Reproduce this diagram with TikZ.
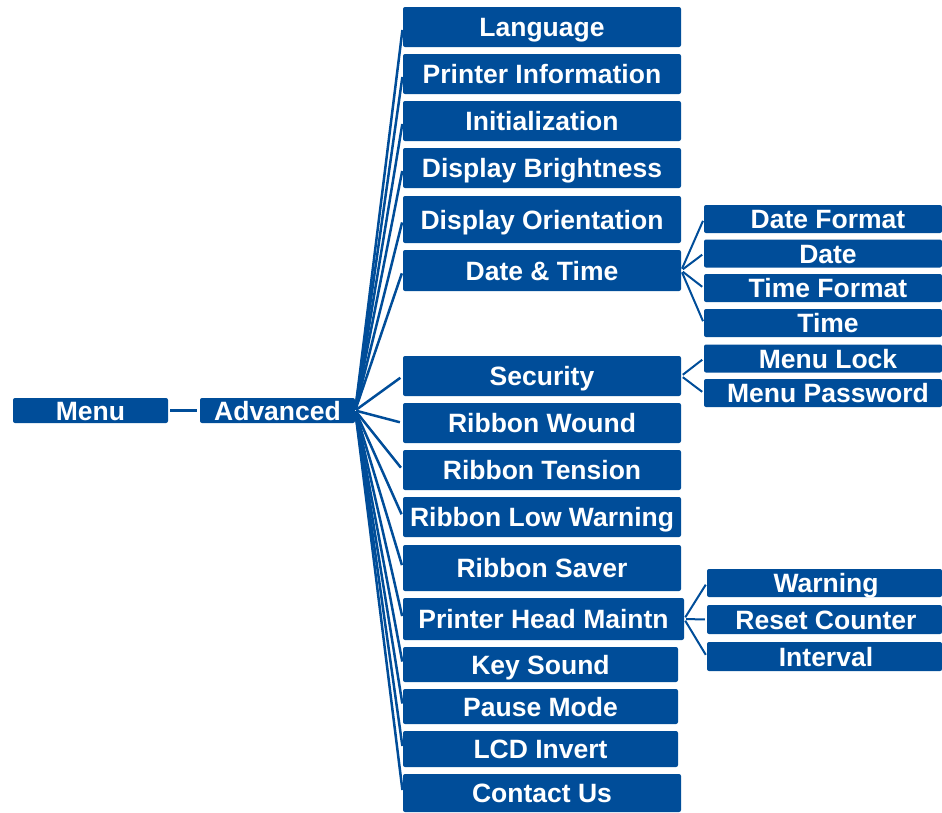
\documentclass[tikz,border=0pt]{standalone}
\usepackage{fontspec}
\setmainfont{Liberation Sans}
\usetikzlibrary{positioning}
\definecolor{MenuBlue}{RGB}{0, 77, 153}

\begin{document}
\begin{tikzpicture}[
    x=1pt, y=-1pt,
    box/.style={rectangle, fill=MenuBlue, rounded corners=2pt, text=white, inner sep=0pt, text height=19pt, text depth=0pt, font=\fontsize{26.5}{26.5}\selectfont\bfseries},
    mid/.style={box, minimum width=278pt, minimum height=40pt},
    sub/.style={box, minimum width=238pt, minimum height=28pt, execute at begin node=\hspace*{10pt}},
    subhead/.style={box, minimum width=235pt, minimum height=29pt, execute at begin node=\hspace*{3pt}},
    link/.style={draw=MenuBlue, line width=2.5pt}
]
    \useasboundingbox (0,0) rectangle (942,812);

    % Wurzel
    \node[box, minimum width=155pt, minimum height=25pt] (menu) at (90.5,410.5) {Menu};
    \node[box, minimum width=155pt, minimum height=25pt] (advanced) at (277.5,410.5) {Advanced};

    % Mittlere Spalte
    \node[mid] (language) at (542,27) {Language};
    \node[mid] (printerInfo) at (542,74) {Printer Information};
    \node[mid] (init) at (542,121) {Initialization};
    \node[mid] (brightness) at (542,168) {Display Brightness};
    \node[mid, minimum height=47pt] (orientation) at (542,219.5) {Display Orientation};
    \node[mid, minimum height=41pt] (dateTime) at (542,270.5) {Date \& Time};
    \node[mid] (security) at (542,376) {Security};
    \node[mid] (ribbonWound) at (542,423) {Ribbon Wound};
    \node[mid] (ribbonTension) at (542,470) {Ribbon Tension};
    \node[mid] (ribbonLow) at (542,517) {Ribbon Low Warning};
    \node[mid, minimum height=46pt] (ribbonSaver) at (542,568) {Ribbon Saver};
    \node[mid, minimum width=281pt, minimum height=42pt] (headMaint) at (543.5,619) {Printer Head Maintn};
    \node[mid, minimum width=275pt, minimum height=35pt] (keySound) at (540.5,664.5) {Key Sound};
    \node[mid, minimum width=275pt, minimum height=35pt] (pauseMode) at (540.5,706.5) {Pause Mode};
    \node[mid, minimum width=275pt, minimum height=36pt] (lcdInvert) at (540.5,749) {LCD Invert};
    \node[mid, minimum height=38pt] (contactUs) at (542,793) {Contact Us};

    % Untermenues
    \node[sub] (dateFormat) at (823,219) {Date Format};
    \node[sub] (date) at (823,253.5) {Date};
    \node[sub] (timeFormat) at (823,288) {Time Format};
    \node[sub] (time) at (823,323) {Time};
    \node[sub] (menuLock) at (823,358.5) {Menu Lock};
    \node[sub] (menuPassword) at (823,393) {Menu Password};
    \node[subhead, minimum height=28pt] (warning) at (824.5,583) {Warning};
    \node[subhead] (resetCounter) at (824.5,619.5) {Reset Counter};
    \node[subhead] (interval) at (824.5,656.5) {Interval};

    % Verbindungen
    \draw[link, line width=3pt, shorten <=2pt, shorten >=3pt] (menu.east) -- (advanced.west);
    \foreach \n in {language, printerInfo, init, brightness, orientation, dateTime,
                    security, ribbonWound, ribbonTension, ribbonLow, ribbonSaver,
                    headMaint, keySound, pauseMode, lcdInvert, contactUs}
        \draw[link, shorten <=1pt, shorten >=3pt] (advanced.east) -- (\n.west);
    \foreach \n in {dateFormat, date, timeFormat, time}
        \draw[link, line width=2pt, shorten <=2pt, shorten >=2pt] (dateTime.east) -- (\n.west);
    \foreach \n in {menuLock, menuPassword}
        \draw[link, line width=2pt, shorten <=2pt, shorten >=2pt] (security.east) -- (\n.west);
    \foreach \n in {warning, resetCounter, interval}
        \draw[link, line width=2pt, shorten <=2pt, shorten >=2pt] (headMaint.east) -- (\n.west);
\end{tikzpicture}
\end{document}
